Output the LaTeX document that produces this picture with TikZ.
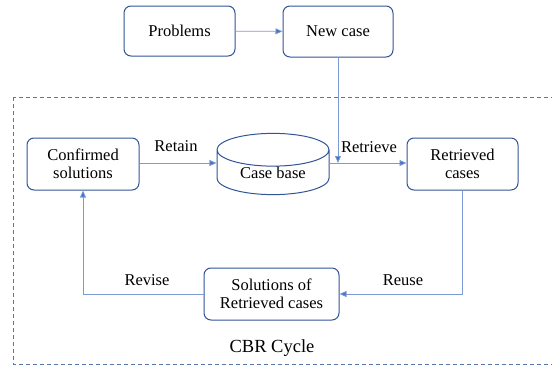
\documentclass[tikz,border=0pt]{standalone}
\usepackage{fontspec}
\setmainfont{Liberation Serif}
\usetikzlibrary{shapes.geometric,arrows.meta}
\definecolor{caixa}{HTML}{2F5597}
\definecolor{linha}{HTML}{7C9BD6}
\definecolor{ponta}{HTML}{4472C4}
\begin{document}
\begin{tikzpicture}[x=1pt,y=-1pt,
		bloco/.style={draw=caixa, line width=1pt, rounded corners=7pt, align=center, font=\fontsize{16.5}{18.5}\selectfont, inner sep=0pt},
		seta/.style={draw=linha, line width=0.8pt, -{Triangle[length=7pt,width=6pt,fill=ponta]}},
		rotulo/.style={font=\fontsize{16.5}{18.5}\selectfont}]
			\useasboundingbox (0,0) rectangle (552,367);
			% Caixa tracejada do ciclo
			\draw[caixa!80, dashed, line width=0.8pt, dash pattern=on 4pt off 3pt] (13,97) rectangle (570,364);
			% Blocos
			\node[bloco, minimum width=111pt, minimum height=50pt] (problems) at (179.5,31) {Problems};
			\node[bloco, minimum width=110pt, minimum height=51pt] (newcase) at (338,31.5) {New case};
			\node[bloco, minimum width=112pt, minimum height=52pt] (confirmed) at (83,164) {Confirmed\\solutions};
			\node[draw=caixa, line width=1pt, cylinder, shape border rotate=90, aspect=0.5, minimum width=112pt, minimum height=58pt, inner sep=0pt, anchor=shape center, font=\fontsize{16.5}{18.5}\selectfont] (casebase) at (273,164) {Case base};
			\node[bloco, minimum width=111pt, minimum height=52pt] (retrieved) at (462.5,164) {Retrieved\\cases};
			\node[bloco, minimum width=135pt, minimum height=52pt] (solutions) at (271.5,294) {Solutions of\\Retrieved cases};
			% Conexoes
			\coordinate (juncao) at (newcase.south |- 0,163);
			\coordinate (saida) at (329,163);
			\coordinate (baixo) at (retrieved.south |- solutions.east);
			\coordinate (canto) at (confirmed.south |- solutions.west);
			\draw[seta] (problems) -- (newcase);
			\draw[seta] (newcase.south) -- (juncao);
			\draw[seta] (confirmed.east |- saida) -- (casebase.west |- saida);
			\draw[seta] (saida) -- (retrieved.west |- saida);
			\draw[seta] (retrieved.south) -- (baixo) -- (solutions.east);
			\draw[seta] (solutions.west) -- (canto) -- (confirmed.south);
			% Rotulos
			\node[rotulo] (retain) at (176,146) {Retain};
			\node[rotulo] (retrieve) at (369,147) {Retrieve};
			\node[rotulo] (reuse) at (403,280) {Reuse};
			\node[rotulo] (revise) at (147,280) {Revise};
			\node[font=\fontsize{18.5}{20}\selectfont] (cbr) at (272,348) {CBR Cycle};
		\end{tikzpicture}
\end{document}
